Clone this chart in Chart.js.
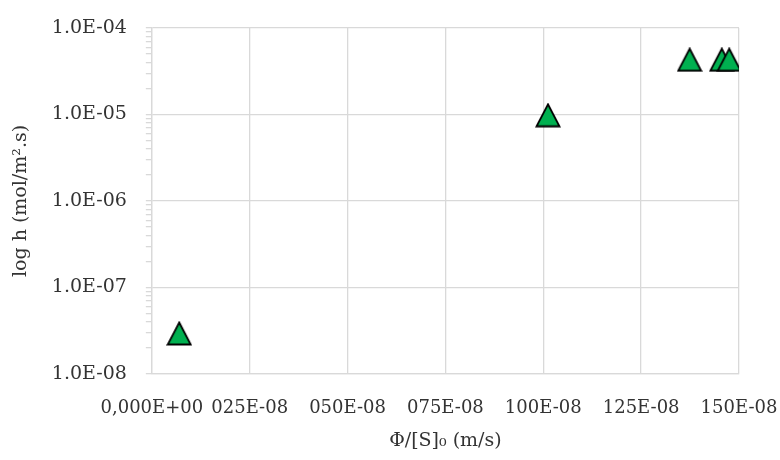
<!DOCTYPE html>
<html>
<head>
<meta charset="utf-8">
<script src="https://cdn.jsdelivr.net/npm/chart.js@4/dist/chart.umd.min.js"></script>
<style>
  body { margin: 0; background: #fff; }
</style>
</head>
<body>
<canvas id="myChart" width="780" height="460"></canvas>
<script>
// values (x in m/s, y in mol/m2.s)
const xValues = [7.0e-8, 1.012e-6, 1.374e-6, 1.456e-6, 1.475e-6];
const yValues = [2.94e-8, 9.8e-6, 4.3e-5, 4.3e-5, 4.3e-5];

const xTickValues = [0, 2.5e-7, 5.0e-7, 7.5e-7, 1.0e-6, 1.25e-6, 1.5e-6];
const xTickLabels = ["0,000E+00", "025E-08", "050E-08", "075E-08", "100E-08", "125E-08", "150E-08"];
const yTickExponents = [-8, -7, -6, -5, -4];
const yTickLabels = ["1.0E-08", "1.0E-07", "1.0E-06", "1.0E-05", "1.0E-04"];

const FONT = "'DejaVu Serif', 'Liberation Serif', serif";
const textColor = "#333";
const gridColor = "#d9d9d9";

// triangle marker, centered on its bounding box like Excel does
function makeTriangle() {
  const c = document.createElement("canvas");
  c.width = 26;
  c.height = 25;
  const g = c.getContext("2d");
  g.beginPath();
  g.moveTo(13, 1.5);
  g.lineTo(24.5, 23.5);
  g.lineTo(1.5, 23.5);
  g.closePath();
  g.fillStyle = "#00b050";
  g.fill();
  g.lineWidth = 1.8;
  g.lineJoin = "miter";
  g.strokeStyle = "#000";
  g.stroke();
  return c;
}

function isDecade(v) {
  const l = Math.log10(v);
  return Math.abs(l - Math.round(l)) < 1e-9;
}

const cfg = {
  type: "scatter",
  data: {
    datasets: [
      {
        data: xValues.map((x, i) => ({ x: x, y: yValues[i] })),
        pointStyle: makeTriangle(),
        pointRadius: 12,
        pointHoverRadius: 12,
      },
    ],
  },
  options: {
    responsive: false,
    animation: false,
    devicePixelRatio: 1,
    layout: { padding: { top: 10, left: 7, right: 2, bottom: 6 } },
    plugins: {
      legend: { display: false },
      tooltip: { enabled: false },
    },
    scales: {
      x: {
        type: "linear",
        min: 0,
        max: 1.5e-6,
        afterBuildTicks: (scale) => {
          scale.ticks = xTickValues.map((v) => ({ value: v }));
        },
        afterFit: (scale) => {
          scale.paddingRight = 41;
        },
        ticks: {
          autoSkip: false,
          maxRotation: 0,
          padding: 24,
          color: textColor,
          font: { family: FONT, size: 18 },
          callback: (value, index) => xTickLabels[index],
        },
        grid: { color: gridColor, lineWidth: 1.3, drawTicks: false },
        border: { color: gridColor, width: 1.3 },
        title: {
          display: true,
          text: "Φ/[S]₀ (m/s)",
          color: textColor,
          font: { family: FONT, size: 19 },
          padding: { top: -14, bottom: 1.6 },
        },
      },
      y: {
        type: "logarithmic",
        min: 1e-8,
        max: 1e-4,
        afterBuildTicks: (scale) => {
          const ticks = [];
          for (let e = -8; e < -4; e++) {
            for (let s = 1; s <= 9; s++) {
              ticks.push({ value: s * Math.pow(10, e) });
            }
          }
          ticks.push({ value: 1e-4 });
          scale.ticks = ticks;
        },
        afterFit: (scale) => {
          scale.paddingTop = 28;
        },
        ticks: {
          autoSkip: false,
          padding: 19,
          color: textColor,
          font: { family: FONT, size: 19 },
          callback: (value) => {
            if (!isDecade(value)) return "";
            const i = yTickExponents.indexOf(Math.round(Math.log10(value)));
            return yTickLabels[i];
          },
        },
        grid: {
          color: (ctx) => (ctx.tick && isDecade(ctx.tick.value) ? gridColor : "rgba(0,0,0,0)"),
          tickColor: gridColor,
          tickLength: 6,
          lineWidth: 1.3,
        },
        border: { color: gridColor, width: 1.3 },
        title: {
          display: true,
          text: "log h (mol/m².s)",
          color: textColor,
          font: { family: FONT, size: 19 },
          padding: { top: 3, bottom: 0 },
        },
      },
    },
  },
};

const ctx = document.getElementById("myChart");
new Chart(ctx, cfg);
</script>
</body>
</html>
